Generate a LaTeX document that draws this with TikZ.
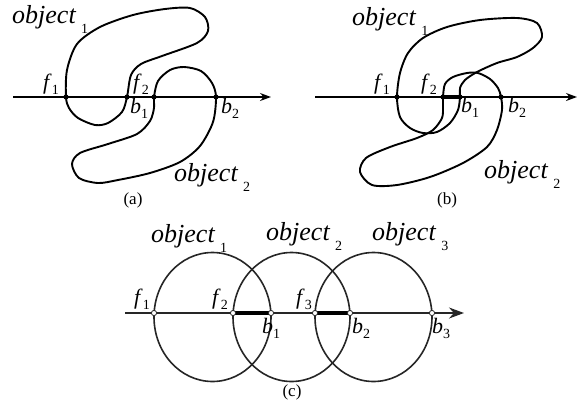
\documentclass[tikz,border=0pt]{standalone}
\usepackage{fontspec}
\setmainfont{Liberation Serif}
\usetikzlibrary{arrows.meta}

\newcommand{\subfont}{\fontsize{14}{14}\selectfont}
\newcommand{\ptlab}[2]{\textit{#1}\raisebox{-5pt}{\subfont #2}}
\newcommand{\objlab}[1]{\textit{object}\hspace{5pt}\raisebox{-10pt}{\subfont #1}}

\begin{document}
\begin{tikzpicture}[x=1pt, y=-1pt,
  objline/.style={line width=1.9pt, line join=round},
  ringline/.style={line width=1.6pt, black!85},
  axisline/.style={line width=1.3pt, -{Stealth[length=11pt,width=8pt]}},
  overlap/.style={line width=3.5pt},
  lab/.style={font=\fontsize{22}{22}\selectfont, inner sep=0pt, anchor=base west},
  objtxt/.style={font=\fontsize{26}{26}\selectfont, inner sep=0pt, anchor=base west},
  caption/.style={font=\fontsize{17}{17}\selectfont, inner sep=0pt}]
\useasboundingbox (0,0) rectangle (579,408);
% (a)
\coordinate (axa-s) at (13,97); \coordinate (axa-e) at (271,97);
\coordinate (f1a) at (66,97); \coordinate (b1a) at (127,97);
\coordinate (f2a) at (154,97); \coordinate (b2a) at (216,97);
\draw[objline] plot[smooth cycle] coordinates {(f1a) (67,70) (77,44) (100,27) (133,15) (165,9) (190,8) (205,17) (208,31) (197,43) (162,56) (141,64) (131,75) (b1a) (122,112) (108,123) (95,125) (78,118) (69,108)};
\draw[objline] plot[smooth cycle] coordinates {(f2a) (158,81) (170,70) (184,67) (201,71) (212,83) (b2a) (213,122) (200,146) (180,162) (150,173) (118,180) (98,183) (79,178) (72,164) (80,153) (108,144) (137,134) (150,121) (154,108)};
\draw[axisline] (axa-s) -- (axa-e);
\foreach \p in {f1a,b1a,f2a,b2a} \fill (\p) circle (2.6pt);
\node[objtxt] (o1a) at (12,23) {\objlab{1}};
\node[objtxt] (o2a) at (174,181) {\objlab{2}};
\node[lab] (lf1a) at (43,89) {\ptlab{f}{1}};
\node[lab] (lf2a) at (133,89) {\ptlab{f}{2}};
\node[lab] (lb1a) at (130,113) {\ptlab{b}{1}};
\node[lab] (lb2a) at (221,113) {\ptlab{b}{2}};
\node[caption] (capa) at (133,200) {(a)};
% (b)
\coordinate (axb-s) at (315,97); \coordinate (axb-e) at (577,97);
\coordinate (f1b) at (397,97); \coordinate (f2b) at (443,97);
\coordinate (b1b) at (460,97); \coordinate (b2b) at (501,97);
\draw[objline] plot[smooth cycle] coordinates {(f1b) (400,73) (408,53) (423,38) (447,27) (480,20) (517,18) (537,23) (542,37) (533,48) (517,57) (497,63) (477,72) (465,80) (460,88) (b1b) (458,110) (450,123) (437,132) (423,133) (410,128) (400,117)};
\draw[objline] plot[smooth cycle] coordinates {(f2b) (445,84) (453,77) (467,73) (478,73) (490,79) (498,88) (b2b) (502,110) (497,130) (487,147) (463,163) (430,177) (397,185) (372,185) (360,172) (366,158) (390,147) (417,138) (433,130) (442,118) (443,107)};
\draw[axisline] (axb-s) -- (axb-e);
\draw[overlap] (f2b) -- (b1b);
\foreach \p in {f1b,f2b,b1b,b2b} \fill (\p) circle (2.6pt);
\node[objtxt] (o1b) at (352,25) {\objlab{1}};
\node[objtxt] (o2b) at (484,178) {\objlab{2}};
\node[lab] (lf1b) at (374,89) {\ptlab{f}{1}};
\node[lab] (lf2b) at (421,89) {\ptlab{f}{2}};
\node[lab] (lb1b) at (461,112) {\ptlab{b}{1}};
\node[lab] (lb2b) at (508,112) {\ptlab{b}{2}};
\node[caption] (capb) at (447,200) {(b)};
% (c)
\coordinate (axc-s) at (125,313); \coordinate (axc-e) at (464,313);
\coordinate (f1c) at (154,313); \coordinate (f2c) at (233,313);
\coordinate (b1c) at (271,313); \coordinate (f3c) at (315,313);
\coordinate (b2c) at (350,313); \coordinate (b3c) at (432,313);
\draw[ringline] (212.5,317) ellipse [x radius=58.5pt, y radius=64.5pt];
\draw[ringline] (291.5,317) ellipse [x radius=58.5pt, y radius=64.5pt];
\draw[ringline] (373.5,317) ellipse [x radius=58.5pt, y radius=64.5pt];
\draw[axisline, black!85, -{Stealth[length=15pt,width=11pt]}] (axc-s) -- (axc-e);
\draw[overlap] (f2c) -- (b1c);
\draw[overlap] (f3c) -- (b2c);
\foreach \p in {f1c,f2c,b1c,f3c,b2c,b3c} \filldraw[fill=white, draw=black!85, line width=0.8pt] (\p) circle (2.6pt);
\node[objtxt] (o1c) at (151,242) {\objlab{1}};
\node[objtxt] (o2c) at (266,240) {\objlab{2}};
\node[objtxt] (o3c) at (372,240) {\objlab{3}};
\node[lab] (lf1c) at (134,304) {\ptlab{f}{1}};
\node[lab] (lf2c) at (212,304) {\ptlab{f}{2}};
\node[lab] (lf3c) at (296,304) {\ptlab{f}{3}};
\node[lab] (lb1c) at (262,333) {\ptlab{b}{1}};
\node[lab] (lb2c) at (352,333) {\ptlab{b}{2}};
\node[lab] (lb3c) at (432,333) {\ptlab{b}{3}};
\node[caption] (capc) at (292,392) {(c)};
\end{tikzpicture}
\end{document}
